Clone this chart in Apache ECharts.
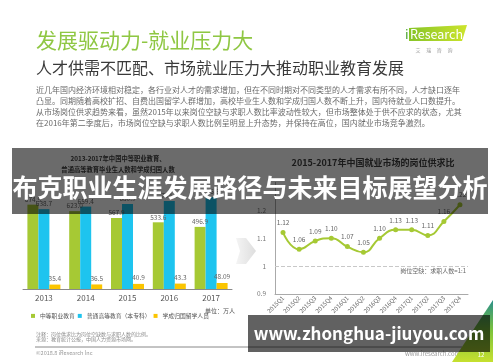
<!DOCTYPE html>
<html>
<head>
<meta charset="utf-8">
<script src="https://cdn.jsdelivr.net/npm/echarts@6/dist/echarts.min.js"></script>
<style>html,body{margin:0;padding:0;background:#fff;}#c{width:500px;height:362px;}</style>
</head>
<body>
<div id="c"></div>
<script>
// ---- data ----
const years = ['2013', '2014', '2015', '2016', '2017'];
const vocational = [674.9, 623.0, 567.9, 533.6, 496.9];   // 中等职业教育
const higherEd = [638.7, 659.4, 680.9, 704.2, 735.8];     // 普通高等教育（本专科）
const returnees = [35.4, 36.5, 40.9, 43.3, 48.09];        // 学成归国留学人员
const quarters = ['2015Q1', '2015Q2', '2015Q3', '2015Q4', '2016Q1', '2016Q2', '2016Q3', '2016Q4', '2017Q1', '2017Q2', '2017Q3', '2017Q4'];
const supplyDemand = [1.12, 1.06, 1.09, 1.10, 1.07, 1.05, 1.10, 1.13, 1.13, 1.11, 1.16, 1.22];
const balanceLine = 1;
const seriesNames = ['中等职业教育', '普通高等教育（本专科）', '学成归国留学人员'];

const paragraph = [
  '近几年国内经济环境相对稳定，各行业对人才的需求增加，但在不同时期对不同类型的人才需求有所不同，人才缺口逐年',
  '凸显。同期随着高校扩招、自费出国留学人群增加，高校毕业生人数和学成归国人数不断上升，国内待就业人口数提升。',
  '从市场岗位供求趋势来看，虽然2015年以来岗位空缺与求职人数比率波动性较大，但市场整体处于供不应求的状态，尤其',
  '在2016年第二季度后，市场岗位空缺与求职人数比例呈明显上升态势，并保持在高位，国内就业市场竞争激烈。'
];

const FONT = '"Noto Sans CJK SC", "Noto Sans", sans-serif';
const GREEN = '#a6c934', BLUE = '#1ec4ef', YELLOW = '#fbc500';

function barLabel(p) {
  const s = String(p.value);
  const dec = s.indexOf('.') >= 0 ? s.split('.')[1].length : 0;
  return dec > 1 ? s : p.value.toFixed(1);
}

const chart = echarts.init(document.getElementById('c'), null, {renderer: 'canvas'});

const graphics = [];
// header
graphics.push({type: 'text', z: 10, style: {text: '发展驱动力-就业压力大', x: 36, y: 40, fill: '#8fc743', font: 'normal 21px ' + FONT, textAlign: 'left', textVerticalAlign: 'middle'}});
graphics.push({type: 'text', z: 10, style: {text: '人才供需不匹配、市场就业压力大推动职业教育发展', x: 36, y: 68, fill: '#3a3a3a', font: 'normal 16px ' + FONT, textAlign: 'left', textVerticalAlign: 'middle'}});
paragraph.forEach((t, i) => {
  graphics.push({type: 'text', z: 10, style: {text: t, x: 36, y: 90 + i * 11, fill: '#6a6a6a', font: 'normal 8px ' + FONT, textAlign: 'left', textVerticalAlign: 'middle'}});
});
// logo
graphics.push({type: 'polygon', z: 10, shape: {points: [[409, 28], [467, 25], [462, 41], [409, 41]]},
  style: {fill: new echarts.graphic.LinearGradient(0, 0, 1, 0, [{offset: 0, color: '#86c428'}, {offset: 1, color: '#cde42c'}])}});
graphics.push({type: 'text', z: 11, style: {text: 'i', x: 405, y: 34, fill: '#4aa52e', font: 'normal 13px ' + FONT, textAlign: 'left', textVerticalAlign: 'middle'}});
graphics.push({type: 'text', z: 11, style: {text: 'Research', x: 410, y: 34, fill: '#ffffff', font: 'normal 12.5px ' + FONT, textAlign: 'left', textVerticalAlign: 'middle'}});
graphics.push({type: 'text', z: 10, style: {text: '艾     瑞     咨     询', x: 434, y: 50, fill: '#9a9a9a', font: 'normal 5px ' + FONT, textAlign: 'center', textVerticalAlign: 'middle'}});
// chevron arrow
graphics.push({type: 'polygon', z: 5, shape: {points: [[236, 238], [246, 238], [256, 251], [246, 264], [236, 264], [240, 251]]},
  style: {fill: new echarts.graphic.LinearGradient(0, 0, 1, 0, [{offset: 0, color: '#f4f4f4'}, {offset: 1, color: '#dedede'}])}});
// legend unit
graphics.push({type: 'text', z: 10, style: {text: '单位：万人', x: 205, y: 311, fill: '#555', font: 'normal 6px ' + FONT, textAlign: 'left', textVerticalAlign: 'middle'}});
// notes
graphics.push({type: 'text', z: 10, style: {text: '注释：岗位供求比为岗位空缺数与求职人数的比例。', x: 36, y: 334, fill: '#8a8a8a', font: 'normal 5px ' + FONT, textAlign: 'left', textVerticalAlign: 'middle'}});
graphics.push({type: 'text', z: 10, style: {text: '来源：教育统计公报，中国人力资源市场网。', x: 36, y: 339.5, fill: '#8a8a8a', font: 'normal 5px ' + FONT, textAlign: 'left', textVerticalAlign: 'middle'}});
graphics.push({type: 'line', z: 10, shape: {x1: 35, y1: 347, x2: 462, y2: 347}, style: {stroke: '#888', lineWidth: 1}});
graphics.push({type: 'text', z: 10, style: {text: '©2018.8 iResearch Inc', x: 36, y: 353, fill: '#9a9a9a', font: 'normal 5.5px ' + FONT, textAlign: 'left', textVerticalAlign: 'middle'}});
graphics.push({type: 'text', z: 10, style: {text: 'www.iresearch.com.cn', x: 405, y: 354, fill: '#9a9a9a', font: 'normal 6px ' + FONT, textAlign: 'left', textVerticalAlign: 'middle'}});
// bottom-right decoration
graphics.push({type: 'polygon', z: 10, shape: {points: [[452, 362], [493, 300], [493, 362]]},
  style: {fill: new echarts.graphic.LinearGradient(0, 0, 0, 1, [{offset: 0, color: '#2a8f8a'}, {offset: 0.5, color: '#7dc33a'}, {offset: 1, color: '#c6e02f'}])}});
graphics.push({type: 'text', z: 11, style: {text: '12', x: 481, y: 355, fill: '#ffffff', font: 'normal 6px ' + FONT, textAlign: 'center', textVerticalAlign: 'middle'}});
// overlay banners
graphics.push({type: 'rect', z: 100, shape: {x: 12, y: 148, width: 476, height: 66}, style: {fill: 'rgba(0,0,0,0.58)'}});
graphics.push({type: 'text', z: 101, style: {text: '布克职业生涯发展路径与未来目标展望分析', x: 250, y: 187, fill: '#ffffff', font: 'bold 25px ' + FONT, textAlign: 'center', textVerticalAlign: 'middle'}});
graphics.push({type: 'rect', z: 100, shape: {x: 248, y: 315, width: 242, height: 37}, style: {fill: 'rgba(0,0,0,0.62)'}});
graphics.push({type: 'text', z: 101, style: {text: 'www.zhonghua-jiuyou.com', x: 369, y: 334, fill: '#ffffff', font: 'bold 17px ' + FONT, textAlign: 'center', textVerticalAlign: 'middle'}});

const option = {
  animation: false,
  backgroundColor: '#ffffff',
  textStyle: {fontFamily: FONT},
  title: [
    {text: '2013-2017年中国中等职业教育、\n普通高等教育毕业生人数和学成归国人数', left: 113, top: 148, textAlign: 'center',
      textStyle: {fontSize: 6.3, fontWeight: 'bold', color: '#404040', lineHeight: 11, fontFamily: FONT}},
    {text: '2015-2017年中国就业市场的岗位供求比', left: 368, top: 153, textAlign: 'center',
      textStyle: {fontSize: 9, fontWeight: 'bold', color: '#404040', fontFamily: FONT}}
  ],
  legend: {
    data: seriesNames, left: 26, top: 308, icon: 'rect', itemWidth: 4, itemHeight: 4, itemGap: 3,
    textStyle: {fontSize: 5.8, color: '#555'}
  },
  grid: [
    {left: 23, top: 164, width: 209, height: 125},
    {left: 275, top: 182.4, width: 193, height: 111.6}
  ],
  xAxis: [
    {type: 'category', gridIndex: 0, data: years, axisLine: {lineStyle: {color: '#8a8a8a'}}, axisTick: {show: false},
      axisLabel: {color: '#555', fontSize: 8, margin: 5}},
    {type: 'category', gridIndex: 1, data: quarters, boundaryGap: true, axisLine: {lineStyle: {color: '#aaa'}}, axisTick: {show: false},
      axisLabel: {color: '#666', fontSize: 6, rotate: 45, margin: 3, interval: 0}}
  ],
  yAxis: [
    {type: 'value', gridIndex: 0, min: 0, max: 1000, show: false},
    {type: 'value', gridIndex: 1, min: 0.9, max: 1.3, interval: 0.1, axisLine: {show: true, lineStyle: {color: '#aaa'}}, axisTick: {show: false},
      splitLine: {show: false}, axisLabel: {color: '#777', fontSize: 6.5, margin: 9, showMaxLabel: false}}
  ],
  series: [
    {name: seriesNames[0], type: 'bar', xAxisIndex: 0, yAxisIndex: 0, data: vocational, barWidth: 11, barGap: '0%', itemStyle: {color: GREEN},
      label: {show: true, position: 'top', distance: 2, fontSize: 6.5, color: '#666', formatter: barLabel}},
    {name: seriesNames[1], type: 'bar', xAxisIndex: 0, yAxisIndex: 0, data: higherEd, barWidth: 11, barGap: '0%', itemStyle: {color: BLUE},
      label: {show: true, position: 'top', distance: 2, fontSize: 6.5, color: '#666', formatter: barLabel}},
    {name: seriesNames[2], type: 'bar', xAxisIndex: 0, yAxisIndex: 0, data: returnees, barWidth: 11, barGap: '0%', itemStyle: {color: YELLOW},
      label: {show: true, position: 'top', distance: 3, fontSize: 6.5, color: '#666', formatter: barLabel}},
    {name: '岗位供求比', type: 'line', xAxisIndex: 1, yAxisIndex: 1, data: supplyDemand, smooth: true, symbol: 'circle', symbolSize: 5,
      itemStyle: {color: GREEN}, lineStyle: {color: GREEN, width: 2},
      label: {show: true, position: 'top', distance: 4, fontSize: 6.5, color: '#666', formatter: p => p.value.toFixed(2)},
      markLine: {silent: true, symbol: 'none', data: [{yAxis: balanceLine}],
        lineStyle: {type: 'dashed', color: '#c8c8c8', width: 1},
        label: {position: 'insideEndBottom', formatter: '岗位空缺：求职人数=1:1', fontSize: 6, color: '#666', distance: 2}}}
  ],
  graphic: graphics
};
chart.setOption(option);
</script>
</body>
</html>
